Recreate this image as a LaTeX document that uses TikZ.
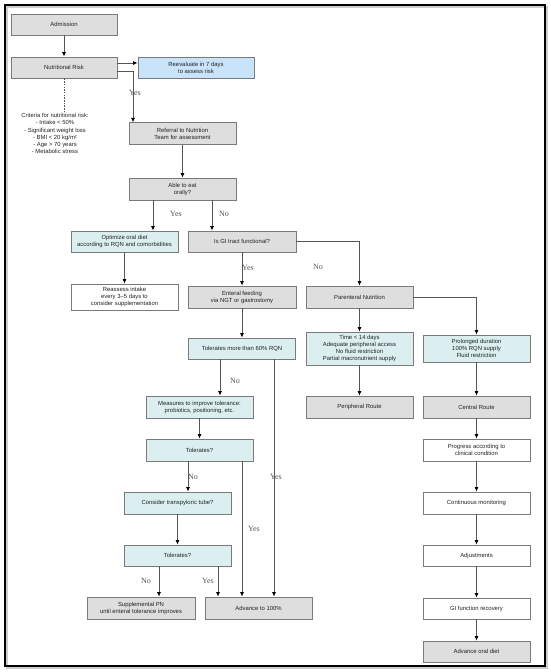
\documentclass[tikz,border=0pt]{standalone}
\usepackage{fontspec}
\setmainfont{Liberation Sans}
\newfontfamily\lblfont{Liberation Serif}
\usetikzlibrary{arrows.meta}
\definecolor{bgray}{HTML}{7A7A7A}
\definecolor{fgray}{HTML}{DEDEDE}
\definecolor{fcyan}{HTML}{DCEFF0}
\definecolor{fblue}{HTML}{C9E3FB}
\definecolor{lgray}{HTML}{555555}
\definecolor{tgray}{HTML}{222222}
\tikzset{
  box/.style={draw=bgray, line width=0.9pt, minimum width=107pt, minimum height=21.5pt,
    inner sep=0pt, align=center, text=tgray, font=\fontsize{5.9}{7}\selectfont},
  graybox/.style={box, fill=fgray},
  cyanbox/.style={box, fill=fcyan},
  bluebox/.style={box, fill=fblue},
  whitebox/.style={box, fill=white},
  conn/.style={draw=lgray, line width=0.7pt, -{Latex[length=4.5pt,width=4pt,color=black]}},
  lbl/.style={font=\lblfont\fontsize{8}{9}\selectfont, text=lgray, inner sep=0pt},
}
\begin{document}
\begin{tikzpicture}[x=1pt,y=-1pt]
\useasboundingbox (0,0) rectangle (550,672);
\draw[line width=2pt, gray!40] (6.5,6.5) rectangle (546.5,667.5);
\draw[line width=1.6pt, black] (5,5) rectangle (545,666);

% left column
\node[graybox, minimum width=106pt, minimum height=21pt] (adm) at (64,24.5) {Admission};
\node[graybox, minimum width=106pt, minimum height=21pt] (nr) at (64,67.5) {Nutritional Risk};
\node[bluebox, minimum width=116pt, minimum height=21pt] (reeval) at (196,67.5) {Reevaluate in 7 days\\to assess risk};
\coordinate (dashend) at (64,112);
\node[align=center, inner sep=0pt, text=tgray, font=\fontsize{5.9}{7.2}\selectfont] (crit) at (55,133.5)
  {Criteria for nutritional risk:\\- Intake < 50\%\\- Significant weight loss\\- BMI < 20 kg/m²\\- Age > 70 years\\- Metabolic stress};
\node[graybox] (ref) at (182.5,133.5) {Referral to Nutrition\\Team for assessment};
\node[graybox, minimum height=22pt] (able) at (182.5,189) {Able to eat\\orally?};
\node[cyanbox, minimum height=21pt] (opt) at (124.5,241.5) {Optimize oral diet\\according to RQN and comorbidities};
\node[graybox, minimum width=108pt, minimum height=21pt] (gi) at (242,241.5) {Is GI tract functional?};
\node[whitebox, minimum height=26pt] (reas) at (124.5,297) {Reassess intake\\every 3–5 days to\\consider supplementation};
\node[graybox, minimum width=108pt, minimum height=22pt] (ent) at (242,297) {Enteral feeding\\via NGT or gastrostomy};
\node[graybox, minimum height=22pt] (par) at (359.5,297) {Parenteral Nutrition};
\node[cyanbox, minimum height=33pt] (time) at (359.5,348.5) {Time < 14 days\\Adequate peripheral access\\No fluid restriction\\Partial macronutrient supply};
\node[cyanbox, minimum height=27pt] (prol) at (476.5,348.5) {Prolonged duration\\100\% RQN supply\\Fluid restriction};
\node[graybox, minimum height=22pt] (peri) at (359.5,407) {Peripheral Route};
\node[graybox, minimum height=22pt] (cent) at (476.5,407) {Central Route};
\node[whitebox, minimum height=22pt] (prog) at (476.5,450) {Progress according to\\clinical condition};
\node[whitebox, minimum height=22pt] (mon) at (476.5,503) {Continuous monitoring};
\node[whitebox, minimum height=21pt] (adj) at (476.5,555.5) {Adjustments};
\node[whitebox, minimum height=21pt] (gir) at (476.5,608.5) {GI function recovery};
\node[graybox, minimum height=21pt] (oral) at (476.5,651.5) {Advance oral diet};

\node[cyanbox, minimum height=21pt] (tol60) at (242,348.5) {Tolerates more than 60\% RQN};
\node[cyanbox, minimum height=22pt] (meas) at (199.5,407) {Measures to improve tolerance:\\probiotics, positioning, etc.};
\node[cyanbox, minimum height=22pt] (tol1) at (199.5,450) {Tolerates?};
\node[cyanbox, minimum height=22pt] (cons) at (177.5,503) {Consider transpyloric tube?};
\node[cyanbox, minimum height=21pt] (tol2) at (177.5,555.5) {Tolerates?};
\node[graybox, minimum width=108pt, minimum height=22pt] (supp) at (141,608) {Supplemental PN\\until enteral tolerance improves};
\node[graybox, minimum height=22pt] (adv) at (258.5,608) {Advance to 100\%};

% connectors
\draw[conn] (adm) -- (nr);
\draw[conn] ([yshift=4.5pt]nr.east) -- ([yshift=4.5pt]nr.east -| reeval.west);
\draw[conn] ([yshift=-3.5pt]nr.east) -| ([xshift=-49.5pt]ref.north);
\draw[draw=lgray, line width=0.6pt, dash pattern=on 1.5pt off 1.2pt] (nr.south) -- (dashend);
\draw[conn] (ref) -- (able);
\draw[conn] ([xshift=-29.5pt]able.south) -- ([xshift=-29.5pt]able.south |- opt.north);
\draw[conn] ([xshift=29.5pt]able.south) -- ([xshift=29.5pt]able.south |- gi.north);
\draw[conn] (opt) -- (reas);
\draw[conn] (gi) -- (ent);
\draw[conn] (gi.east) -| (par.north);
\draw[conn] (par.east) -| (prol.north);
\draw[conn] (par) -- (time);
\draw[conn] (time) -- (peri);
\draw[conn] (prol) -- (cent);
\draw[conn] (cent) -- (prog);
\draw[conn] (prog) -- (mon);
\draw[conn] (mon) -- (adj);
\draw[conn] (adj) -- (gir);
\draw[conn] (gir) -- (oral);
\draw[conn] (ent) -- (tol60);
\draw[conn] ([xshift=-22pt]tol60.south) -- ([xshift=-22pt]tol60.south |- meas.north);
\draw[conn] ([xshift=32pt]tol60.south) -- ([xshift=32pt]tol60.south |- adv.north);
\draw[conn] (meas) -- (tol1);
\draw[conn] ([xshift=-11.5pt]tol1.south) -- ([xshift=-11.5pt]tol1.south |- cons.north);
\draw[conn] ([xshift=42.5pt]tol1.south) -- ([xshift=42.5pt]tol1.south |- adv.north);
\draw[conn] (cons) -- (tol2);
\draw[conn] ([xshift=-18.5pt]tol2.south) -- ([xshift=-18.5pt]tol2.south |- supp.north);
\draw[conn] ([xshift=40.5pt]tol2.south) -- ([xshift=40.5pt]tol2.south |- adv.north);

% labels
\node[lbl] (l1) at (135,93) {Yes};
\node[lbl] (l2) at (176,214) {Yes};
\node[lbl] (l3) at (224,214) {No};
\node[lbl] (l4) at (248,268) {Yes};
\node[lbl] (l5) at (318,267) {No};
\node[lbl] (l6) at (235,381) {No};
\node[lbl] (l7) at (276,477) {Yes};
\node[lbl] (l8) at (193,477) {No};
\node[lbl] (l9) at (254,529) {Yes};
\node[lbl] (l10) at (146,581) {No};
\node[lbl] (l11) at (208,581) {Yes};
\end{tikzpicture}
\end{document}
